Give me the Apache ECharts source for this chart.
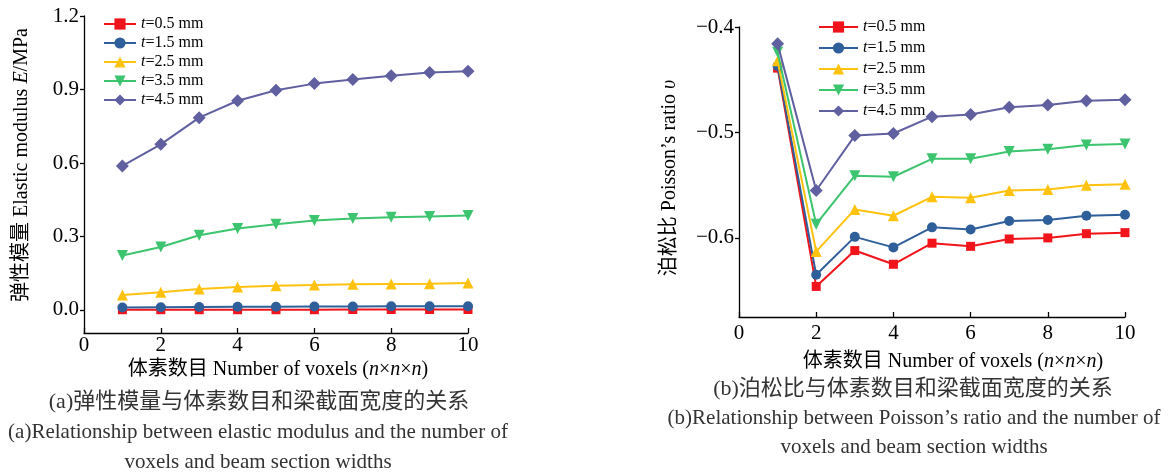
<!DOCTYPE html>
<html><head><meta charset="utf-8">
<script src="https://cdn.jsdelivr.net/npm/echarts@6/dist/echarts.min.js"></script>
<style>html,body{margin:0;padding:0;background:#fff}#c{width:1174px;height:473px}</style>
</head><body><div id="c"></div>
<script>
const xVals = [1,2,3,4,5,6,7,8,9,10];
const seriesNames = ['t=0.5 mm','t=1.5 mm','t=2.5 mm','t=3.5 mm','t=4.5 mm'];
// Elastic modulus E (MPa)
const E_05 = [0.001,0.001,0.001,0.001,0.001,0.001,0.002,0.002,0.002,0.002];
const E_15 = [0.010,0.011,0.012,0.013,0.013,0.014,0.014,0.015,0.015,0.015];
const E_25 = [0.061,0.072,0.086,0.094,0.099,0.102,0.105,0.106,0.107,0.110];
const E_35 = [0.222,0.257,0.305,0.333,0.350,0.365,0.373,0.378,0.382,0.386];
const E_45 = [0.588,0.676,0.785,0.854,0.897,0.924,0.941,0.956,0.969,0.974];
// Poisson's ratio
const P_05 = [-0.439,-0.646,-0.612,-0.625,-0.605,-0.608,-0.601,-0.600,-0.596,-0.595];
const P_15 = [-0.437,-0.635,-0.599,-0.609,-0.590,-0.592,-0.584,-0.583,-0.579,-0.578];
const P_25 = [-0.432,-0.613,-0.573,-0.579,-0.561,-0.562,-0.555,-0.554,-0.550,-0.549];
const P_35 = [-0.424,-0.587,-0.541,-0.542,-0.525,-0.525,-0.518,-0.516,-0.512,-0.511];
const P_45 = [-0.416,-0.555,-0.503,-0.501,-0.485,-0.483,-0.476,-0.474,-0.470,-0.469];
const yTicksE = [0, 0.3, 0.6, 0.9, 1.2];
const yTicksP = [-0.6, -0.5, -0.4];

const colors = ['#f2141b','#2f5f9b','#ffc20e','#3cc46e','#6060a0'];
const symbols = ['rect','circle','triangle','path://M0,0 L10,0 L5,8.66 Z','diamond'];
const symSizes = [9,10,11,11,13];
const SERIF = "'Liberation Serif','Noto Sans CJK SC'";

const chart = echarts.init(document.getElementById('c'), null, {renderer:'canvas'});

function mkSeries(arrs, gi){
  return arrs.map((a,i)=>({
    name: seriesNames[i], type:'line', xAxisIndex:gi, yAxisIndex:gi,
    data: xVals.map((x,k)=>[x,a[k]]),
    symbol: symbols[i], symbolSize: symSizes[i], showAllSymbol:true,
    lineStyle:{color:colors[i], width:2},
    itemStyle:{color:colors[i]}, z: 2+i, animation:false
  }));
}
const axisLine = {show:true, onZero:false, lineStyle:{color:'#000', width:1.3}};
const lblStyle = {color:'#000', fontFamily:SERIF, fontSize:21};
function xAx(gi, margin){
  return {type:'value', gridIndex:gi, min:0, max:10, interval:2,
    axisLine, axisTick:{show:true, inside:true, length:5, lineStyle:{color:'#000',width:1.3}},
    axisLabel:{...lblStyle, margin}, splitLine:{show:false}};
}
function legendFor(left, top, gap, w){
  return {left, top, orient:'vertical', itemWidth:w, itemHeight:14, itemGap:gap,
    data: seriesNames, selectedMode:false,
    formatter: n => '{i|t}{n|' + n.slice(1) + '}',
    textStyle:{color:'#000', fontFamily:SERIF, fontSize:16,
      rich:{i:{fontStyle:'italic', fontFamily:SERIF, fontSize:16}, n:{fontFamily:SERIF, fontSize:16}}}};
}
const rich20 = {a:{fontFamily:SERIF, fontSize:20, fill:'#000'}, i:{fontFamily:SERIF, fontSize:20, fontStyle:'italic', fill:'#000'}};
function txt(x,y,text,opts){
  return Object.assign({type:'text', x, y, silent:true,
    style:Object.assign({text, align:'center', verticalAlign:'middle', fill:'#000', font:"20px "+SERIF}, opts||{})});
}
const capEn = {fill:'#333', font:"21px "+SERIF};
const capZh = {fill:'#333', font:"22px "+SERIF};

chart.setOption({
  animation:false,
  backgroundColor:'#fff',
  grid:[
    {left:84, top:16, width:384, height:317},
    {left:739, top:27, width:386, height:290}
  ],
  xAxis:[xAx(0,2), xAx(1,6)],
  yAxis:[
    {type:'value', gridIndex:0, min:-0.094, max:1.2,
      axisLine, axisTick:{show:true, length:4, customValues:yTicksE, lineStyle:{color:'#000',width:1.3}},
      axisLabel:{...lblStyle, margin:5, customValues:yTicksE, formatter:v=>v.toFixed(1)},
      splitLine:{show:false}},
    {type:'value', gridIndex:1, min:-0.675, max:-0.4,
      axisLine, axisTick:{show:true, length:4, customValues:yTicksP, lineStyle:{color:'#000',width:1.3}},
      axisLabel:{...lblStyle, margin:5, customValues:yTicksP, formatter:v=>v.toFixed(1).replace('-','\u2212')},
      splitLine:{show:false}}
  ],
  legend:[legendFor(98, 11, 3, 32), legendFor(813, 14, 5, 39)],
  series:[
    ...mkSeries([E_05,E_15,E_25,E_35,E_45],0),
    ...mkSeries([P_05,P_15,P_25,P_35,P_45],1)
  ],
  graphic:[
    txt(22,165,'{a|弹性模量 Elastic modulus }{i|E}{a|/MPa}',{rich:rich20}),
    txt(670,178,'{a|泊松比 Poisson\u2019s ratio }{i|\u03c5}',{rich:rich20}),
    txt(278,370,'{a|体素数目 Number of voxels (}{i|n}{a|×}{i|n}{a|×}{i|n}{a|)}',{rich:rich20}),
    txt(953,362,'{a|体素数目 Number of voxels (}{i|n}{a|×}{i|n}{a|×}{i|n}{a|)}',{rich:rich20}),
    txt(259,402,'(a)弹性模量与体素数目和梁截面宽度的关系',capZh),
    txt(258,432,'(a)Relationship between elastic modulus and the number of',capEn),
    txt(258,462,'voxels and beam section widths',capEn),
    txt(913,389,'(b)泊松比与体素数目和梁截面宽度的关系',capZh),
    txt(914,418,'(b)Relationship between Poisson\u2019s ratio and the number of',capEn),
    txt(914,447,'voxels and beam section widths',capEn)
  ].map((g,k)=> k<2 ? Object.assign(g,{rotation:Math.PI/2}) : g)
});
</script></body></html>
